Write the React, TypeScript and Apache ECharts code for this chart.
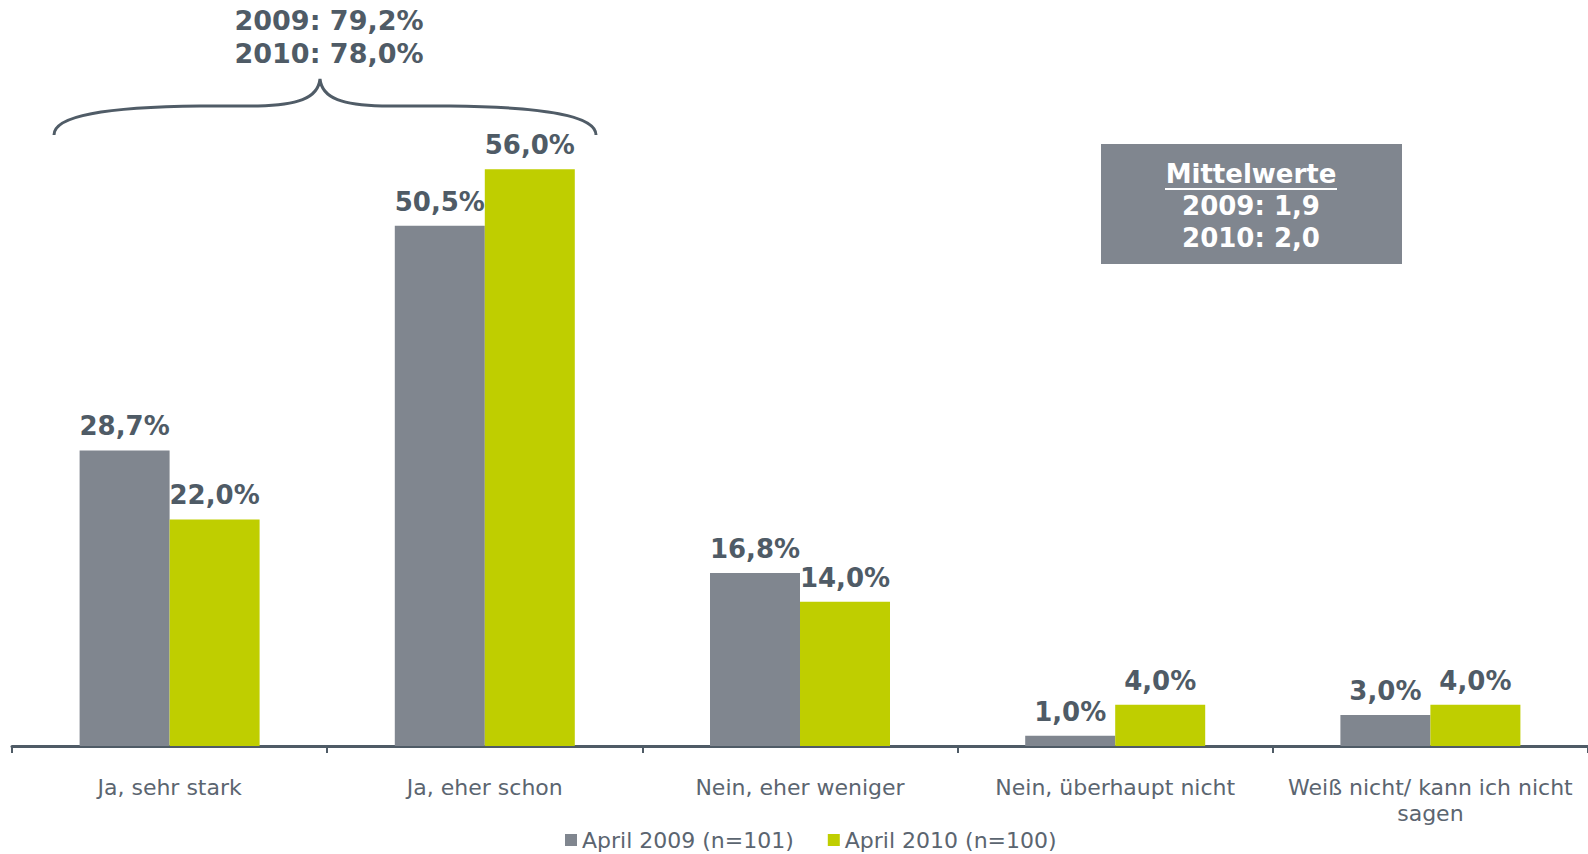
import React, { useEffect, useRef } from "react";
import * as echarts from "echarts";

const categories = [
  "Ja, sehr stark",
  "Ja, eher schon",
  "Nein, eher weniger",
  "Nein, überhaupt nicht",
  "Weiß nicht/ kann ich nicht\nsagen",
];
const series2009 = [28.7, 50.5, 16.8, 1.0, 3.0];
const series2010 = [22.0, 56.0, 14.0, 4.0, 4.0];
const seriesNames = ["April 2009 (n=101)", "April 2010 (n=100)"];
const braceLines = ["2009: 79,2%", "2010: 78,0%"];
const meanTitle = "Mittelwerte";
const meanLines = ["2009: 1,9", "2010: 2,0"];

const GRAY = "#80868f";
const GREEN = "#bfce00";
const DARK = "#4f5b66";
const FONT = "DejaVu Sans, Verdana, sans-serif";

const fmt = (v: number) => v.toFixed(1).replace(".", ",") + "%";

const BRACE_D =
  "M54 135 C54 116 105 107 200 106 L258 106 C296 105 318 99 320 79 C322 99 344 105 382 106 L450 106 C545 107 596 116 596 135";

export default function App() {
  const ref = useRef<HTMLDivElement>(null);
  useEffect(() => {
    if (!ref.current) return;
    try {
      echarts.graphic.registerShape("brace", echarts.graphic.extendPath(BRACE_D, {}));
    } catch (e) {}
    const chart = echarts.init(ref.current, null, { renderer: "svg" });
    const label = {
      show: true,
      position: "top",
      distance: 11,
      fontFamily: FONT,
      fontWeight: "bold",
      fontSize: 26,
      color: DARK,
      formatter: (p: any) => fmt(p.value),
    };
    chart.setOption({
      animation: false,
      textStyle: { fontFamily: FONT },
      grid: { left: 12, right: -2, top: 128, bottom: 108 },
      legend: {
        data: seriesNames,
        left: 565,
        top: 829,
        padding: 0,
        itemWidth: 12,
        itemHeight: 12,
        itemGap: 34,
        icon: "rect",
        textStyle: { fontFamily: FONT, fontSize: 22, lineHeight: 22, color: "#5b6570" },
      },
      xAxis: {
        type: "category",
        data: categories,
        axisLine: { lineStyle: { color: DARK, width: 3 } },
        axisTick: { show: true, length: 7, lineStyle: { color: DARK, width: 2 } },
        axisLabel: {
          interval: 0,
          margin: 28,
          fontFamily: FONT,
          fontSize: 22,
          lineHeight: 26,
          color: "#5b6570",
        },
      },
      yAxis: {
        type: "value",
        min: 0,
        max: 60,
        show: false,
        splitLine: { show: false },
      },
      series: [
        {
          name: seriesNames[0],
          type: "bar",
          data: series2009,
          barWidth: 90,
          barGap: "0%",
          itemStyle: { color: GRAY },
          label,
        },
        {
          name: seriesNames[1],
          type: "bar",
          data: series2010,
          barWidth: 90,
          barGap: "0%",
          itemStyle: { color: GREEN },
          label,
        },
      ],
      graphic: [
        {
          type: "brace",
          x: 0,
          y: 0,
          scaleX: 1,
          scaleY: 1,
          style: { fill: "none", stroke: "#505c67", lineWidth: 3 },
        },
        {
          type: "text",
          x: 329,
          y: 20,
          style: {
            text: braceLines[0],
            fontFamily: FONT,
            fontWeight: "bold",
            fontSize: 27,
            fill: DARK,
            align: "center",
            verticalAlign: "middle",
          },
        },
        {
          type: "text",
          x: 329,
          y: 53,
          style: {
            text: braceLines[1],
            fontFamily: FONT,
            fontWeight: "bold",
            fontSize: 27,
            fill: DARK,
            align: "center",
            verticalAlign: "middle",
          },
        },
        {
          type: "rect",
          shape: { x: 1101, y: 144, width: 301, height: 120 },
          style: { fill: GRAY },
        },
        {
          type: "text",
          x: 1251,
          y: 174,
          style: {
            text: meanTitle,
            fontFamily: FONT,
            fontWeight: "bold",
            fontSize: 26,
            fill: "#ffffff",
            align: "center",
            verticalAlign: "middle",
          },
        },
        {
          type: "line",
          shape: { x1: 1165, y1: 189, x2: 1337, y2: 189 },
          style: { stroke: "#ffffff", lineWidth: 2 },
        },
        {
          type: "text",
          x: 1251,
          y: 206,
          style: {
            text: meanLines[0],
            fontFamily: FONT,
            fontWeight: "bold",
            fontSize: 26,
            fill: "#ffffff",
            align: "center",
            verticalAlign: "middle",
          },
        },
        {
          type: "text",
          x: 1251,
          y: 238,
          style: {
            text: meanLines[1],
            fontFamily: FONT,
            fontWeight: "bold",
            fontSize: 26,
            fill: "#ffffff",
            align: "center",
            verticalAlign: "middle",
          },
        },
      ],
    });
    return () => chart.dispose();
  }, []);
  return (
    <div
      ref={ref}
      style={{ position: "absolute", left: 0, top: 0, width: 1588, height: 854, background: "#fff" }}
    />
  );
}
